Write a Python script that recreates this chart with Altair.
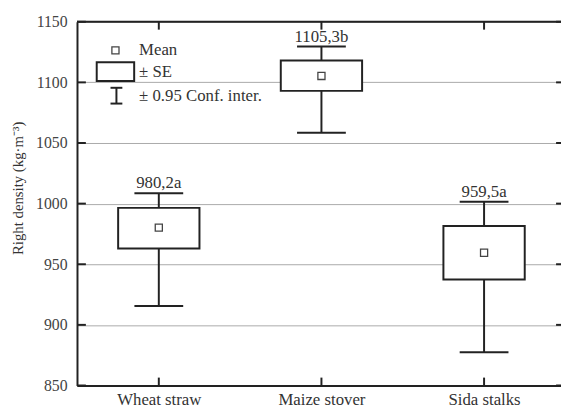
import json
import altair as alt
import pandas as pd

categories = ["Wheat straw", "Maize stover", "Sida stalks"]
means = [980.2, 1105.3, 959.5]
se_low = [963.0, 1093.0, 937.5]
se_high = [996.5, 1118.0, 981.5]
ci_low = [915.5, 1058.5, 877.5]
ci_high = [1008.5, 1129.5, 1001.5]
labels = ["980,2a", "1105,3b", "959,5a"]
y_ticks = [850, 900, 950, 1000, 1050, 1100, 1150]

W, H = 491, 369
FONT = "Liberation Serif"
INK = "#222222"

df = pd.DataFrame({
    "idx": list(range(len(categories))),
    "cat": categories,
    "mean": means,
    "se_low": se_low,
    "se_high": se_high,
    "ci_low": ci_low,
    "ci_high": ci_high,
    "label": labels,
})
ticks_df = pd.DataFrame({"t": y_ticks})
one = pd.DataFrame({"k": [0]})

label_expr = json.dumps(categories) + "[datum.value]"
xscale = alt.Scale(domain=[-0.503, 2.473], nice=False, zero=False)
xaxis = alt.Axis(values=[0, 1, 2], labelExpr=label_expr, title=None, ticks=False,
                 grid=False, domainColor=INK, domainWidth=2, labelFont=FONT,
                 labelFontSize=17, labelColor="#333333", labelPadding=6)
yscale = alt.Scale(domain=[850, 1150], nice=False, zero=False)
yaxis = alt.Axis(values=y_ticks, format="d", title=None, ticks=False, grid=True,
                 gridColor="#aaaaaa", gridWidth=1, domainColor=INK, domainWidth=2,
                 labelFont=FONT, labelFontSize=16, labelColor="#444444", labelPadding=10)


def X(field):
    return alt.X(field, type="quantitative", scale=xscale, axis=xaxis)


def Y(field):
    return alt.Y(field, type="quantitative", scale=yscale, axis=yaxis)


base = alt.Chart(df)

left_ticks = alt.Chart(ticks_df).mark_rule(color=INK, strokeWidth=2).encode(
    y=Y("t:Q"), x=alt.value(0), x2=alt.value(9))
right_ticks = alt.Chart(ticks_df).mark_rule(color=INK, strokeWidth=2).encode(
    y=Y("t:Q"), x=alt.value(W - 5), x2=alt.value(W))
top_border = alt.Chart(one).mark_rule(color=INK, strokeWidth=2).encode(
    y=alt.value(0), x=alt.value(0), x2=alt.value(W))
top_ticks = base.mark_rule(color=INK, strokeWidth=2).encode(
    x=X("idx:Q"), y=alt.value(0), y2=alt.value(8))
bottom_ticks = base.mark_rule(color=INK, strokeWidth=2).encode(
    x=X("idx:Q"), y=alt.value(H - 8), y2=alt.value(H))

whisker = base.mark_rule(color=INK, strokeWidth=2).encode(
    x=X("idx:Q"), y=Y("ci_low:Q"), y2="ci_high:Q")
caps_base = base.transform_calculate(
    cl="datum.idx - 0.15", cr="datum.idx + 0.15")
cap_top = caps_base.mark_rule(color=INK, strokeWidth=2).encode(
    x=X("cl:Q"), x2="cr:Q", y=Y("ci_high:Q"))
cap_bot = caps_base.mark_rule(color=INK, strokeWidth=2).encode(
    x=X("cl:Q"), x2="cr:Q", y=Y("ci_low:Q"))
box = base.transform_calculate(
    bl="datum.idx - 0.25", br="datum.idx + 0.25").mark_rect(
    fill="white", stroke=INK, strokeWidth=2).encode(
    x=X("bl:Q"), x2="br:Q", y=Y("se_low:Q"), y2="se_high:Q")
mean_pt = base.mark_point(shape="square", filled=False, fill="white", size=52,
                          stroke="#444444", strokeWidth=1.3, opacity=1).encode(
    x=X("idx:Q"), y=Y("mean:Q"))
text = base.mark_text(font=FONT, fontSize=17, color="#333333", baseline="alphabetic",
                      align="center", dy=-5).encode(
    x=X("idx:Q"), y=Y("ci_high:Q"), text="label:N")

# legend
leg_sq = alt.Chart(one).mark_point(shape="square", filled=False, fill="white", size=52,
                                   stroke="#444444", strokeWidth=1.3, opacity=1).encode(
    x=alt.value(39), y=alt.value(29))
leg_box = alt.Chart(one).mark_rect(fill="white", stroke=INK, strokeWidth=2).encode(
    x=alt.value(20), x2=alt.value(58), y=alt.value(41), y2=alt.value(60))
leg_bar = alt.Chart(one).mark_rule(color=INK, strokeWidth=2).encode(
    x=alt.value(40), y=alt.value(67), y2=alt.value(83))
leg_cap1 = alt.Chart(one).mark_rule(color=INK, strokeWidth=2).encode(
    x=alt.value(34), x2=alt.value(46), y=alt.value(67))
leg_cap2 = alt.Chart(one).mark_rule(color=INK, strokeWidth=2).encode(
    x=alt.value(34), x2=alt.value(46), y=alt.value(83))
leg_text_df = pd.DataFrame({"t": ["Mean", "± SE", "± 0.95 Conf. inter."],
                            "yy": [34, 56, 80]})
leg_text = alt.Chart(leg_text_df).mark_text(font=FONT, fontSize=17, color="#333333",
                                            align="left", baseline="alphabetic").encode(
    x=alt.value(63), y=alt.Y("yy:Q", scale=None), text="t:N")

ytitle = alt.Chart(one).mark_text(font=FONT, fontSize=15, color="#333333", angle=270,
                                  align="center", baseline="middle",
                                  text="Right density (kg·m⁻³)").encode(
    x=alt.value(-60), y=alt.value(169))

chart = alt.layer(
    left_ticks, right_ticks, top_border, top_ticks, bottom_ticks,
    whisker, cap_top, cap_bot, box, mean_pt, text,
    leg_sq, leg_box, leg_bar, leg_cap1, leg_cap2, leg_text, ytitle,
).properties(
    width=W, height=H,
    autosize=alt.AutoSizeParams(type="none"),
    padding={"left": 70, "top": 11, "right": 0, "bottom": 28},
).configure_view(stroke=None).configure(background="white")

chart.save("out.html", embed_options={"renderer": "svg", "actions": False})
